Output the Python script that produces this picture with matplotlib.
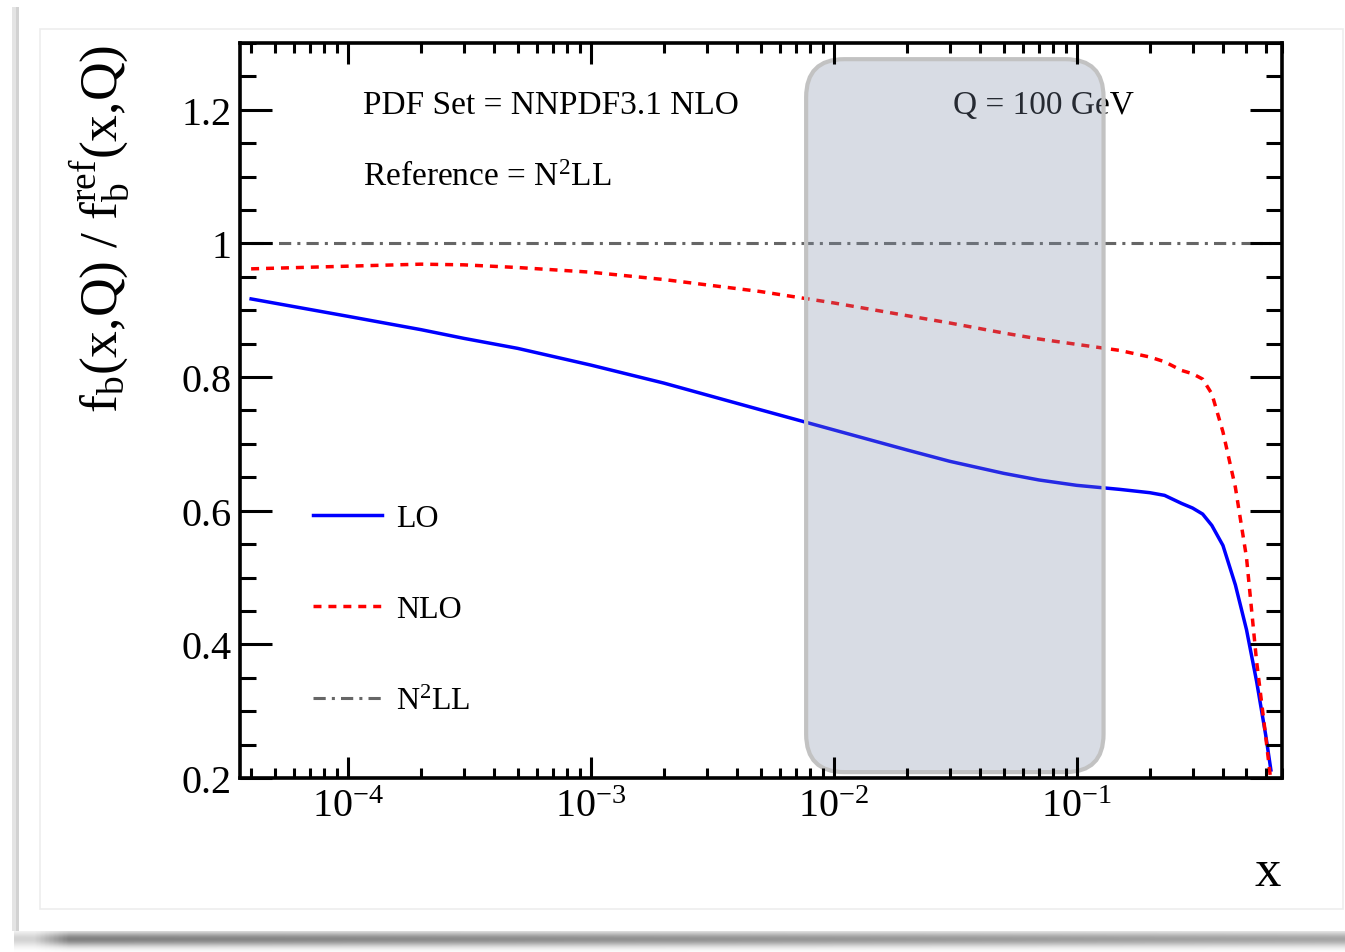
import matplotlib
matplotlib.use("Agg")
import matplotlib.pyplot as plt
import numpy as np
from matplotlib.patches import FancyBboxPatch, Rectangle
from matplotlib.ticker import LogLocator, MultipleLocator, FixedLocator, FuncFormatter, NullFormatter

# values
x_vals = [4e-5, 1e-4, 2e-4, 3e-4, 5e-4, 1e-3, 2e-3, 5e-3, 1e-2, 2e-2, 3e-2, 5e-2, 7e-2, 0.1,
          0.15, 0.2, 0.23, 0.27, 0.3, 0.33, 0.36, 0.4, 0.45, 0.5, 0.55, 0.6, 0.63]
lo_ratio = [0.917, 0.891, 0.871, 0.858, 0.843, 0.818, 0.791, 0.751, 0.721, 0.691, 0.674, 0.656, 0.646,
            0.638, 0.632, 0.627, 0.623, 0.611, 0.604, 0.595, 0.578, 0.548, 0.489, 0.422, 0.345, 0.264,
            0.212]
nlo_ratio = [0.962, 0.966, 0.969, 0.968, 0.964, 0.957, 0.946, 0.928, 0.911, 0.892, 0.881, 0.866, 0.857,
             0.849, 0.840, 0.830, 0.823, 0.810, 0.805, 0.797, 0.775, 0.718, 0.635, 0.530, 0.375, 0.262,
             0.195]
n2ll_x = [4e-5, 0.63]
n2ll_ratio = [1.0, 1.0]

y_ticks = [0.2, 0.4, 0.6, 0.8, 1.0, 1.2]
x_range = (3.6e-5, 0.7)
y_range = (0.2, 1.3)
band_x = (0.0077, 0.129)  # highlighted x region

plt.rcParams["font.family"] = ["Liberation Serif", "DejaVu Serif"]
plt.rcParams["mathtext.fontset"] = "custom"
plt.rcParams["mathtext.rm"] = "Liberation Serif"
plt.rcParams["mathtext.it"] = "Liberation Serif:italic"

W, H = 1345, 953
fig = plt.figure(figsize=(W / 100, H / 100), dpi=100)
fig.patch.set_facecolor("white")

# card / drop-shadow decoration around the plot
fig.patches.append(Rectangle((12 / W, 1 - 932 / H), 7 / W, (932 - 8) / H,
                             transform=fig.transFigure, facecolor="#e4e4e4", edgecolor="none", zorder=-3))
fig.patches.append(Rectangle((16 / W, 1 - 932 / H), 3 / W, (932 - 8) / H,
                             transform=fig.transFigure, facecolor="#d2d2d2", edgecolor="none", zorder=-2))
fig.patches.append(Rectangle((40 / W, 1 - 910 / H), (1343 - 40) / W, (910 - 30) / H,
                             transform=fig.transFigure, facecolor="white", edgecolor="#ededed", lw=1.2,
                             zorder=-1))
shadow_ax = fig.add_axes([14 / W, 0, 1 - 14 / W, 21 / H])
yy = np.linspace(1, 0, 42)[:, None]
xx = np.linspace(0, 1, 300)[None, :]
prof = np.exp(-((yy - 0.62) / 0.35) ** 2) * (0.5 - 0.15 * xx)
prof = prof * np.clip(xx * 25, 0.35, 1.0)
shadow_ax.imshow(1 - prof, cmap="gray", vmin=0, vmax=1, aspect="auto", extent=[0, 1, 0, 1],
                 origin="upper")
shadow_ax.axis("off")

ax = fig.add_axes([240 / W, 1 - 779 / H, (1282 - 240) / W, (779 - 44) / H])
ax.set_xscale("log")
ax.set_xlim(*x_range)
ax.set_ylim(*y_range)

ax.plot(x_vals, lo_ratio, color="#0000ff", lw=2.5, label="LO", zorder=2)
ax.plot(x_vals, nlo_ratio, color="#ff0000", lw=2.5, dashes=(2.3, 2.0), label="NLO", zorder=2)
ax.plot(n2ll_x, n2ll_ratio, color="#666666", lw=2.2, dashes=(4.0, 2.0, 1.0, 2.0),
        label=r"N$^{\mathregular{2}}$LL", zorder=2)

ax.text(0.118, 0.905, "PDF Set = NNPDF3.1 NLO", transform=ax.transAxes, fontsize=24, zorder=2.1)
ax.text(0.118, 0.807, r"Reference = N$^{\mathregular{2}}$LL", transform=ax.transAxes, fontsize=24, zorder=2.1)
ax.text(0.684, 0.905, "Q = 100 GeV", transform=ax.transAxes, fontsize=24, zorder=2.1)

# rounded highlight box, drawn in axes fraction so corners stay round
axw, axh = 1282 - 240, 779 - 44
bx0 = (np.log10(band_x[0]) - np.log10(x_range[0])) / (np.log10(x_range[1]) - np.log10(x_range[0]))
bx1 = (np.log10(band_x[1]) - np.log10(x_range[0])) / (np.log10(x_range[1]) - np.log10(x_range[0]))
by0, by1 = 0.008, 0.978
box = FancyBboxPatch((bx0, by0), bx1 - bx0, by1 - by0,
                     boxstyle=f"round,pad=0,rounding_size={38 / axw}",
                     mutation_aspect=axw / axh, transform=ax.transAxes,
                     facecolor=(128 / 255, 142 / 255, 168 / 255, 0.3),
                     edgecolor="#c2c2c2", lw=3.0, zorder=2.2, clip_on=False)
ax.add_patch(box)

leg = ax.legend(loc="center left", bbox_to_anchor=(0.070, 0.229), frameon=False, fontsize=23,
                handlelength=2.15, handletextpad=0.45, labelspacing=1.95,
                borderpad=0, borderaxespad=0)
leg.set_zorder(3)

ax.set_axisbelow(False)
for s in ax.spines.values():
    s.set_linewidth(2.6)
    s.set_zorder(3)

ax.xaxis.set_major_locator(LogLocator(base=10, numticks=20))
ax.xaxis.set_minor_locator(LogLocator(base=10, subs=np.arange(2, 10), numticks=50))
ax.xaxis.set_minor_formatter(NullFormatter())
ax.xaxis.set_major_formatter(FuncFormatter(
    lambda v, p: r"$\mathregular{10^{%d}}$" % int(round(np.log10(v)))))
ax.yaxis.set_major_locator(FixedLocator(y_ticks))
ax.yaxis.set_minor_locator(MultipleLocator(0.05))
ax.yaxis.set_major_formatter(FuncFormatter(lambda v, p: f"{v:g}"))

ax.tick_params(axis="both", which="both", direction="in", top=True, right=True, width=2.2, zorder=3)
ax.tick_params(axis="x", which="major", length=15, labelsize=29, pad=7)
ax.tick_params(axis="x", which="minor", length=7.5)
ax.tick_params(axis="y", which="major", length=23, labelsize=29, pad=6)
ax.tick_params(axis="y", which="minor", length=11.5)

fig.text(100 / W, 1 - 45 / H, r"$\mathregular{f_{b}(x{,}Q)\ /\ f^{ref}_{b}(x{,}Q)}$",
         rotation=90, ha="center", va="top", fontsize=38.5)
fig.text(1268 / W, 1 - 873 / H, "x", ha="center", va="center", fontsize=38)

fig.savefig("out.png", dpi=100)
